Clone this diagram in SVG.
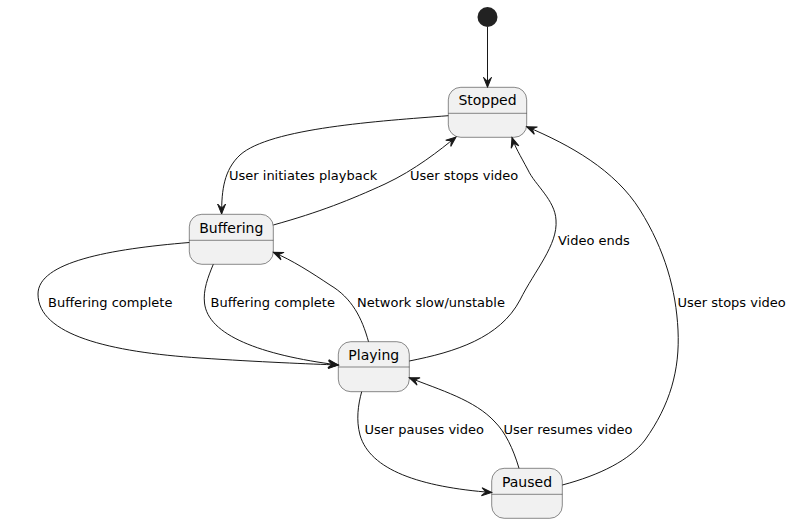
<svg xmlns="http://www.w3.org/2000/svg" width="792" height="523" viewBox="0 0 792 523">
<defs>
<marker id="arr" markerUnits="userSpaceOnUse" markerWidth="11" markerHeight="9" refX="10" refY="4" orient="auto" overflow="visible">
<path d="M0,0 L10,4 L0,8 L4,4 Z" fill="#181818" stroke="#181818" stroke-width="1"/>
</marker>
<style>
.node rect{fill:#F1F1F1;stroke:#181818;stroke-width:0.5}
.node line{stroke:#181818;stroke-width:0.5}
.node text{font-family:"DejaVu Sans",sans-serif;font-size:14px;fill:#000;text-anchor:middle}
.edge{fill:none;stroke:#181818;stroke-width:1;marker-end:url(#arr)}
.lbl{font-family:"DejaVu Sans",sans-serif;font-size:13px;fill:#000}
</style>
</defs>
<rect width="792" height="523" fill="#FFFFFF"/>
<g id="start"><circle cx="487.5" cy="17" r="10" fill="#222222"/></g>
<g id="Stopped" class="node"><rect x="448.3" y="87.3" width="78.4" height="50" rx="12.5"/><line x1="448.3" y1="113.3" x2="526.7" y2="113.3"/><text x="487.5" y="105.3">Stopped</text></g>
<g id="Buffering" class="node"><rect x="189.3" y="214.3" width="84" height="50" rx="12.5"/><line x1="189.3" y1="240.3" x2="273.3" y2="240.3"/><text x="231.3" y="232.5">Buffering</text></g>
<g id="Playing" class="node"><rect x="338.3" y="341.7" width="71" height="50" rx="12.5"/><line x1="338.3" y1="367" x2="409.3" y2="367"/><text x="373.8" y="360">Playing</text></g>
<g id="Paused" class="node"><rect x="491.7" y="468.3" width="70.6" height="50" rx="12.5"/><line x1="491.7" y1="494.3" x2="562.3" y2="494.3"/><text x="527" y="486.6">Paused</text></g>
<g id="connectors">
<path class="edge" d="M487.5,27 L487.5,87.3"/>
<path class="edge" d="M448.3,115.7 C380,121 270,128 240,155 C224,170 221.6,190 221.6,214"/>
<path class="edge" d="M273.3,225 C320,212 350,200 385,184 C415,170 440,150 456,137"/>
<path class="edge" d="M189.3,242.5 C110,249 38,262 38,294 C38,335 110,352 200,358 C260,362 310,364 338.3,365"/>
<path class="edge" d="M213.3,264.3 C208,277 203,290 204.5,303 C208,335 260,355 338.3,365"/>
<path class="edge" d="M368.5,341.7 C362,318 352,298 330,285 C312,273 292,260 273.3,252.3"/>
<path class="edge" d="M409.3,361 C455,352 500,338 520,300 C535,270 558,245 556,220 C555,200 535,185 528,170 C520,155 515,147 512,137.5"/>
<path class="edge" d="M562.3,485 C600,475 630,460 645,440 C670,405 680,370 678,330 C676,290 665,250 640,210 C615,170 570,145 526.7,126.7"/>
<path class="edge" d="M361.7,391.7 C358,405 356,420 360,435 C370,470 420,487 491.7,492.5"/>
<path class="edge" d="M519,468.3 C513,448 505,432 495,422 C475,400 440,390 409.3,377.7"/>
<text class="lbl" x="229" y="180">User initiates playback</text>
<text class="lbl" x="410" y="180">User stops video</text>
<text class="lbl" x="48" y="307">Buffering complete</text>
<text class="lbl" x="210.5" y="307">Buffering complete</text>
<text class="lbl" x="357" y="307">Network slow/unstable</text>
<text class="lbl" x="558" y="245">Video ends</text>
<text class="lbl" x="677.5" y="307">User stops video</text>
<text class="lbl" x="364.5" y="434">User pauses video</text>
<text class="lbl" x="503.5" y="434">User resumes video</text>
</g>
</svg>
